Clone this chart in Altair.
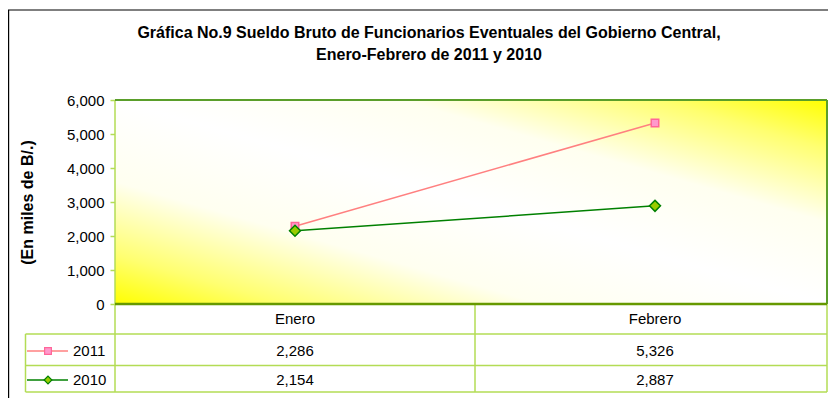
import altair as alt
import pandas as pd

# ---------------- data ----------------
months = ["Enero", "Febrero"]
series = ["2011", "2010"]
values_2011 = [2286, 5326]
values_2010 = [2154, 2887]
y_ticks = [0, 1000, 2000, 3000, 4000, 5000, 6000]
title_lines = [
    "Gráfica No.9 Sueldo Bruto de Funcionarios Eventuales del Gobierno Central,",
    "Enero-Febrero de 2011 y 2010",
]
y_title = "(En miles de B/.)"

rows = []
for s, vals in zip(series, [values_2011, values_2010]):
    for m, v in zip(months, vals):
        rows.append({"mes": m, "serie": s, "valor": v})
df = pd.DataFrame(rows)

# ---------------- styling ----------------
W, H = 712, 204
FONT = "Liberation Sans"
FS = 15
line_colors = ["#FF8080", "#008000"]
marker_fill = ["#FF99CC", "#99CC00"]
marker_stroke = ["#FF6699", "#008000"]
marker_shape = ["square", "diamond"]
marker_size = [56, 120]
legend_size = [46, 60]
GRID = "#B3DC55"
ROW_Y = [251, 280]
HEADER_Y = 219
MID = 360

one = alt.Data(values=[{"k": 1}])

x_enc = alt.X("mes:N", sort=months,
              scale=alt.Scale(type="point", domain=months, range=[180, 540], padding=0),
              axis=None)
y_enc = alt.Y("valor:Q", scale=alt.Scale(domain=[0, 6000], nice=False, zero=True),
              axis=alt.Axis(values=y_ticks, format=",.0f", tickSize=5, tickColor=GRID,
                            tickWidth=1.5, domain=False, grid=False,
                            labelFont=FONT, labelFontSize=FS, labelColor="black",
                            labelPadding=6,
                            title=y_title, titleFont=FONT, titleFontSize=16,
                            titleFontWeight="bold", titleColor="black",
                            titleAngle=270, titleX=-88, titleY=102,
                            titleAlign="center", titleBaseline="middle"))

# background gradient
grad = alt.LinearGradient(
    gradient="linear",
    stops=[alt.GradientStop(color="#FFFF00", offset=0),
           alt.GradientStop(color="#FFFF70", offset=0.12),
           alt.GradientStop(color="#FFFFF0", offset=0.3),
           alt.GradientStop(color="#FFFFFF", offset=0.5),
           alt.GradientStop(color="#FFFFF0", offset=0.7),
           alt.GradientStop(color="#FFFF70", offset=0.88),
           alt.GradientStop(color="#FFFF00", offset=1)],
    x1=0, y1=1, x2=1, y2=0)
bg = alt.Chart(one).mark_rect(color=grad).encode(
    x=alt.value(0), x2=alt.value(W), y=alt.value(0), y2=alt.value(H))


def hrule(x1, x2, y, color, w=1.5):
    return alt.Chart(one).mark_rule(color=color, strokeWidth=w).encode(
        x=alt.value(x1), x2=alt.value(x2), y=alt.value(y))


def vrule(x, y1, y2, color, w=1.5):
    return alt.Chart(one).mark_rule(color=color, strokeWidth=w).encode(
        x=alt.value(x), y=alt.value(y1), y2=alt.value(y2))


TL = -89.5  # table left
TB = 292    # table bottom
deco = [
    # table grid
    hrule(TL, W, 234, GRID), hrule(TL, W, 265.5, GRID), hrule(TL, W, TB, GRID),
    vrule(TL, 234, TB, GRID), vrule(0, 0, TB, GRID), vrule(MID, H, TB, GRID),
    vrule(W, H, TB, GRID),
    # plot frame
    hrule(0, W, 0, "#5A9E2A", 2), vrule(W, 0, H, "#5A9E2A", 2),
    hrule(0, W, H, "#669900", 2.5),
    # outer frame
    hrule(-107, W + 2, -90, "black", 1.2), vrule(-106.4, -90, 300, "black", 1.2),
]

lines = alt.Chart(df).mark_line(strokeWidth=1.5).encode(
    x=x_enc, y=y_enc,
    color=alt.Color("serie:N", scale=alt.Scale(domain=series, range=line_colors), legend=None),
    detail="serie:N")

points = alt.Chart(df).mark_point(filled=True, strokeWidth=1.5, opacity=1).encode(
    x=x_enc, y=y_enc,
    shape=alt.Shape("serie:N", scale=alt.Scale(domain=series, range=marker_shape), legend=None),
    fill=alt.Fill("serie:N", scale=alt.Scale(domain=series, range=marker_fill), legend=None),
    stroke=alt.Stroke("serie:N", scale=alt.Scale(domain=series, range=marker_stroke), legend=None),
    size=alt.Size("serie:N", scale=alt.Scale(domain=series, range=marker_size), legend=None))

text_style = dict(font=FONT, fontSize=FS, color="black", baseline="middle")

header = alt.Chart(df).transform_filter(alt.datum.serie == series[0]).mark_text(
    **text_style).encode(x=x_enc, y=alt.value(HEADER_Y), text="mes:N")

table_layers = []
for i, s in enumerate(series):
    table_layers.append(
        alt.Chart(df).transform_filter(alt.datum.serie == s).mark_text(**text_style).encode(
            x=x_enc, y=alt.value(ROW_Y[i]), text=alt.Text("valor:Q", format=",.0f")))
    sub = alt.Chart(df).transform_filter(
        (alt.datum.serie == s) & (alt.datum.mes == months[0]))
    table_layers.append(
        sub.mark_rule(color=line_colors[i], strokeWidth=1.5).encode(
            x=alt.value(-88), x2=alt.value(-47), y=alt.value(ROW_Y[i])))
    table_layers.append(
        sub.mark_point(shape=marker_shape[i], filled=True, fill=marker_fill[i],
                       stroke=marker_stroke[i], strokeWidth=1.2, size=legend_size[i],
                       opacity=1).encode(x=alt.value(-67), y=alt.value(ROW_Y[i])))
    table_layers.append(
        sub.mark_text(align="left", **text_style).encode(
            x=alt.value(-42), y=alt.value(ROW_Y[i]), text="serie:N"))

title_layers = []
for i, t in enumerate(title_lines):
    title_layers.append(
        alt.Chart(alt.Data(values=[{"t": t}])).mark_text(
            font=FONT, fontSize=16, fontWeight="bold", color="black",
            baseline="middle", align="center").encode(
            x=alt.value(314), y=alt.value(-67 + 22 * i), text="t:N"))

chart = alt.layer(bg, *deco, lines, points, header, *table_layers, *title_layers).properties(
    width=W, height=H,
    autosize=alt.AutoSizeParams(type="none"),
    padding={"left": 107, "top": 92, "right": 1, "bottom": 94},
    background="white",
).configure_view(stroke=None)

chart.save("out.html", embed_options={"renderer": "svg", "actions": False})
